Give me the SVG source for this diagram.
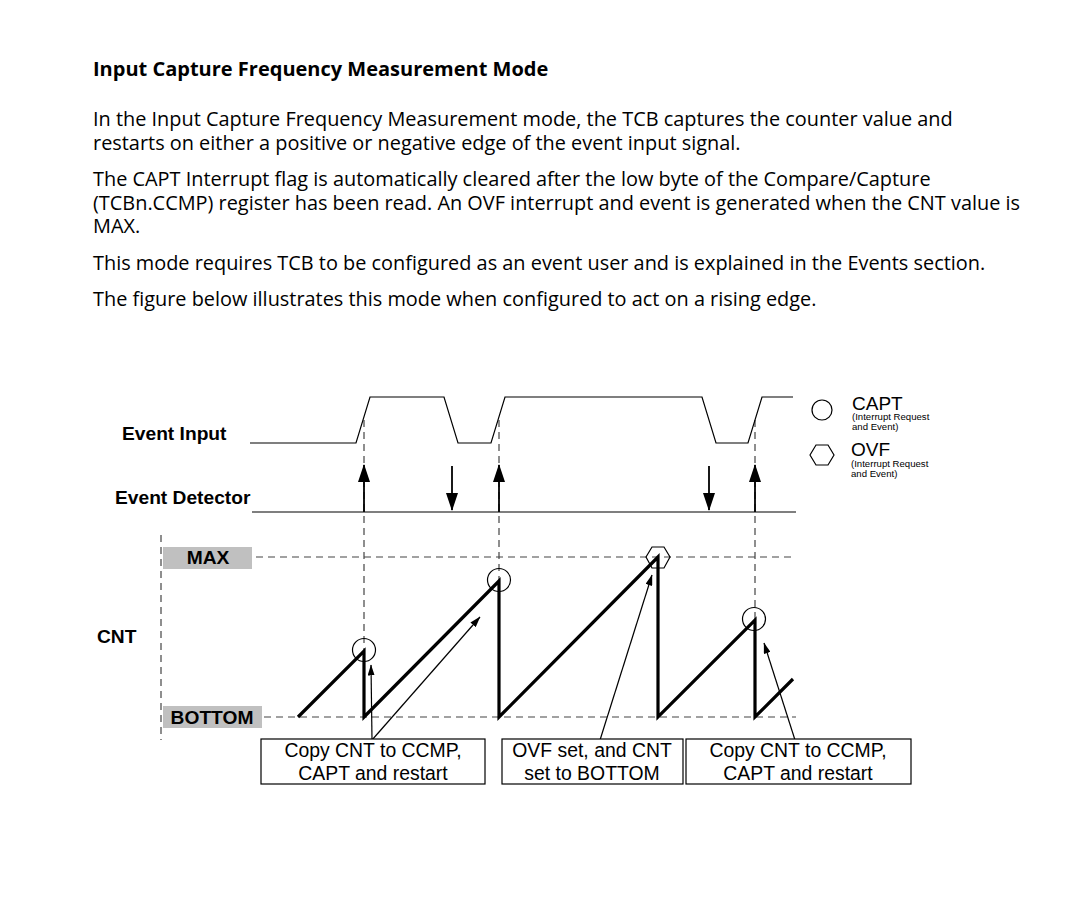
<svg xmlns="http://www.w3.org/2000/svg" width="1080" height="900" viewBox="0 0 1080 900">
<style>
.doc{font-family:"Open Sans","Noto Sans",sans-serif;font-size:19.9px;fill:#000}
.title{font-family:"Open Sans","Noto Sans",sans-serif;font-size:20px;font-weight:bold;fill:#000}
.lbl{font-family:"Liberation Sans",Arial,sans-serif;font-size:19.2px;font-weight:bold;fill:#000}
.box{font-family:"Liberation Sans",Arial,sans-serif;font-size:19.4px;fill:#000;text-anchor:middle}
.leg{font-family:"Liberation Sans",Arial,sans-serif;font-size:19px;fill:#000}
.legs{font-family:"Liberation Sans",Arial,sans-serif;font-size:9.6px;fill:#000}
.thin{fill:none;stroke:#000;stroke-width:1.2}
.arr{fill:none;stroke:#000;stroke-width:1.8}
.dash{fill:none;stroke:#444;stroke-width:1.2;stroke-dasharray:7 5}
.thick{fill:none;stroke:#000;stroke-width:3.2;stroke-linejoin:miter}
.rect{fill:#fff;stroke:#000;stroke-width:1.2}
.gray{fill:#c0c0c0}
</style>
<defs>
<marker id="big" markerWidth="18" markerHeight="12" refX="17" refY="6" orient="auto" markerUnits="userSpaceOnUse" viewBox="0 0 18 12">
<path d="M0,0 L18,6 L0,12 Z" fill="#000"/>
</marker>
<marker id="small" markerWidth="11" markerHeight="7" refX="10.5" refY="3.5" orient="auto" markerUnits="userSpaceOnUse" viewBox="0 0 11 7">
<path d="M0,0 L11,3.5 L0,7 Z" fill="#000"/>
</marker>
</defs>
<rect width="1080" height="900" fill="#fff"/>

<g id="text">
<text class="title" x="93" y="76">Input Capture Frequency Measurement Mode</text>
<text class="doc" x="93" y="126">In the Input Capture Frequency Measurement mode, the TCB captures the counter value and</text>
<text class="doc" x="93" y="150">restarts on either a positive or negative edge of the event input signal.</text>
<text class="doc" x="93" y="186">The CAPT Interrupt flag is automatically cleared after the low byte of the Compare/Capture</text>
<text class="doc" x="93" y="210">(TCBn.CCMP) register has been read. An OVF interrupt and event is generated when the CNT value is</text>
<text class="doc" x="93" y="233">MAX.</text>
<text class="doc" x="93" y="270">This mode requires TCB to be configured as an event user and is explained in the Events section.</text>
<text class="doc" x="93" y="306">The figure below illustrates this mode when configured to act on a rising edge.</text>
</g>

<g id="labels">
<text class="lbl" x="122" y="440">Event Input</text>
<text class="lbl" x="115" y="504">Event Detector</text>
<text class="lbl" x="97" y="643">CNT</text>
<rect class="gray" x="163" y="547" width="89" height="22"/>
<text class="lbl" x="208" y="564" text-anchor="middle">MAX</text>
<rect class="gray" x="163" y="706" width="99" height="22"/>
<text class="lbl" x="212" y="724" text-anchor="middle">BOTTOM</text>
</g>

<g id="legend">
<circle class="thin" cx="822" cy="410" r="10"/>
<text class="leg" x="852" y="410">CAPT</text>
<text class="legs" x="852" y="420">(Interrupt Request</text>
<text class="legs" x="852" y="430">and Event)</text>
<polygon class="thin" points="810,455 816,445 828,445 834,455 828,465 816,465"/>
<text class="leg" x="851" y="456">OVF</text>
<text class="legs" x="851" y="467">(Interrupt Request</text>
<text class="legs" x="851" y="477">and Event)</text>
</g>

<g id="guides">
<line class="dash" x1="161" y1="535" x2="161" y2="740"/>
<line class="dash" x1="256" y1="557" x2="796" y2="557"/>
<line class="dash" x1="264" y1="717" x2="796" y2="717"/>
<line class="dash" x1="364" y1="420" x2="364" y2="717"/>
<line class="dash" x1="499" y1="420" x2="499" y2="580"/>
<line class="dash" x1="755" y1="420" x2="755" y2="620"/>
</g>

<g id="event-input">
<polyline class="thin" points="250,443 356,443 370,397 444,397 458,443 491,443 505,397 702,397 716,443 748,443 762,397 793,397"/>
</g>

<g id="event-detector">
<line class="thin" x1="252" y1="512" x2="796" y2="512"/>
<line class="arr" x1="364" y1="512" x2="364" y2="465" marker-end="url(#big)"/>
<line class="arr" x1="499" y1="512" x2="499" y2="465" marker-end="url(#big)"/>
<line class="arr" x1="755" y1="512" x2="755" y2="465" marker-end="url(#big)"/>
<line class="arr" x1="452" y1="466" x2="452" y2="510" marker-end="url(#big)"/>
<line class="arr" x1="709" y1="466" x2="709" y2="510" marker-end="url(#big)"/>
</g>

<g id="cnt">
<polyline class="thick" points="298,717 364,651 364,717 499,581 499,717 658,557 658,717 755,620 755,717 793,679"/>
<circle class="thin" cx="364" cy="650" r="11.5"/>
<circle class="thin" cx="499" cy="580" r="11.5"/>
<circle class="thin" cx="754" cy="619" r="11.5"/>
<polygon class="thin" points="646,557 652,547 664,547 670,557 664,568 652,568"/>
</g>

<g id="connectors">
<line class="thin" x1="372" y1="740" x2="371" y2="665" marker-end="url(#small)"/>
<line class="thin" x1="372" y1="740" x2="480" y2="617" marker-end="url(#small)"/>
<line class="thin" x1="600" y1="740" x2="652" y2="575" marker-end="url(#small)"/>
<line class="thin" x1="795" y1="740" x2="764" y2="643" marker-end="url(#small)"/>
</g>

<g id="box1">
<rect class="rect" x="261" y="739" width="224" height="45"/>
<text class="box" x="373" y="757">Copy CNT to CCMP,</text>
<text class="box" x="373" y="780">CAPT and restart</text>
</g>
<g id="box2">
<rect class="rect" x="502" y="739" width="181" height="45"/>
<text class="box" x="592" y="757">OVF set, and CNT</text>
<text class="box" x="592" y="780">set to BOTTOM</text>
</g>
<g id="box3">
<rect class="rect" x="686" y="739" width="225" height="45"/>
<text class="box" x="798" y="757">Copy CNT to CCMP,</text>
<text class="box" x="798" y="780">CAPT and restart</text>
</g>
</svg>
